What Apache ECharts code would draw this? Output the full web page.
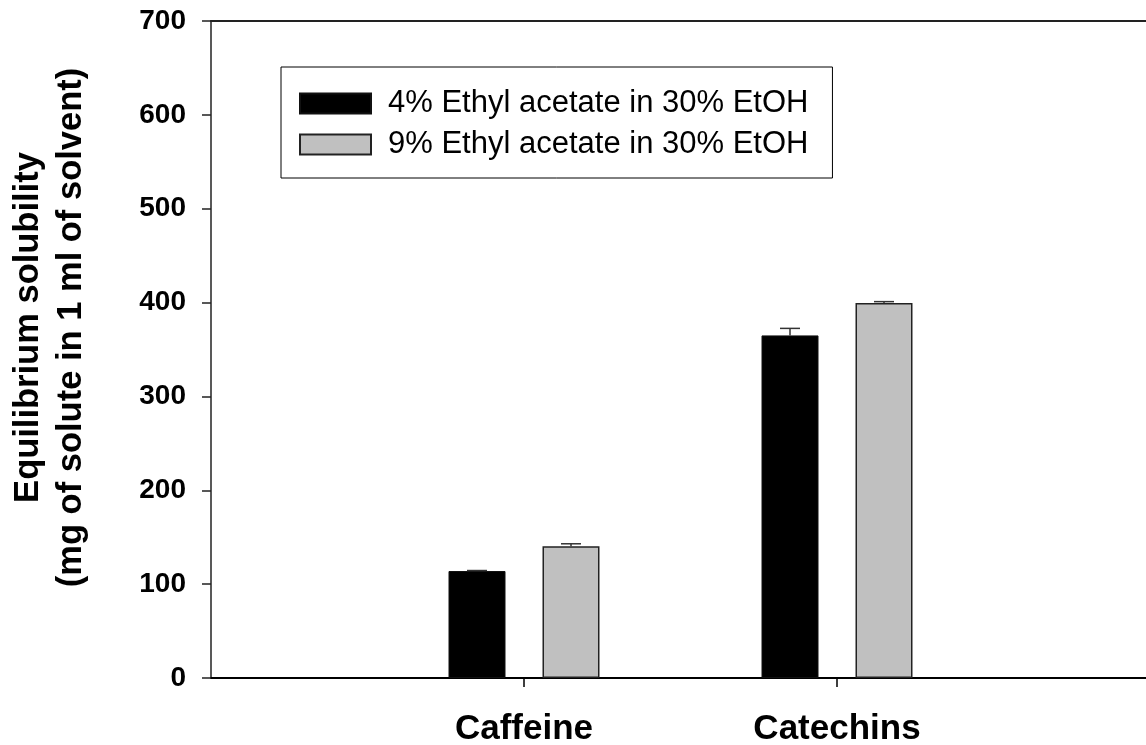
<!DOCTYPE html>
<html>
<head>
<meta charset="utf-8">
<script src="https://cdn.jsdelivr.net/npm/echarts@6/dist/echarts.min.js"></script>
<style>
html,body{margin:0;padding:0;background:#fff;}
#c{width:1146px;height:745px;}
</style>
</head>
<body>
<div id="c"></div>
<script>
const categories = ['Caffeine', 'Catechins'];
const seriesNames = ['4% Ethyl acetate in 30% EtOH', '9% Ethyl acetate in 30% EtOH'];
const ea4 = [114, 365];
const ea4Err = [0.5, 7.5];
const ea9 = [140.5, 399.5];
const ea9Err = [2.5, 1.5];
const yMin = 0, yMax = 700, yStep = 100;

const FONT = "'Liberation Sans', Arial, sans-serif";
const axisCats = [''].concat(categories).concat(['']);
const BAR_W = 57, GAP_PX = 37;
const pad = v => ['-'].concat(v).concat(['-']);

function errSeries(vals, errs, dir) {
  const data = vals.map((v, i) => [i + 1, v, errs[i]]);
  return {
    type: 'custom',
    z: 5,
    silent: true,
    data: data,
    renderItem: function (params, api) {
      const base = api.coord([api.value(0), api.value(1)]);
      const top = api.coord([api.value(0), api.value(1) + api.value(2)]);
      const x = base[0] + dir * (BAR_W + GAP_PX) / 2;
      const st = {stroke: '#333', lineWidth: 1.5};
      return {
        type: 'group',
        children: [
          {type: 'line', shape: {x1: x, y1: base[1], x2: x, y2: top[1]}, style: st},
          {type: 'line', shape: {x1: x - 10, y1: top[1], x2: x + 10, y2: top[1]}, style: st}
        ]
      };
    }
  };
}

const chart = echarts.init(document.getElementById('c'), null, {renderer: 'canvas'});
chart.setOption({
  animation: false,
  backgroundColor: '#fff',
  textStyle: {fontFamily: FONT},
  grid: {left: 211, width: 939, top: 21, bottom: 67, containLabel: false, outerBoundsMode: 'none'},
  legend: {
    orient: 'vertical',
    left: 281, top: 67,
    padding: [21, 24, 18, 18],
    itemGap: 10,
    itemWidth: 71, itemHeight: 20,
    icon: 'rect',
    borderColor: '#000', borderWidth: 1,
    textStyle: {fontSize: 31, color: '#000', fontFamily: FONT, padding: [0, 0, 0, 12]},
    data: seriesNames
  },
  xAxis: [{
    type: 'category',
    data: axisCats,
    boundaryGap: false,
    position: 'bottom',
    axisLine: {show: true, lineStyle: {color: '#000', width: 2}},
    axisTick: {show: true, length: 9, interval: (i) => i === 1 || i === 2, lineStyle: {color: '#000', width: 1.5}},
    axisLabel: {show: true, interval: 0, margin: 34, fontSize: 35, fontWeight: 'bold', color: '#000', fontFamily: FONT},
    splitLine: {show: false}
  }, {
    type: 'category',
    data: axisCats,
    boundaryGap: false,
    position: 'top',
    axisLine: {show: true, lineStyle: {color: '#222', width: 2}},
    axisTick: {show: false},
    axisLabel: {show: false},
    splitLine: {show: false}
  }],
  yAxis: {
    type: 'value',
    min: yMin, max: yMax, interval: yStep,
    name: 'Equilibrium solubility\n(mg of solute in 1 ml of solvent)',
    nameLocation: 'middle',
    nameRotate: 90,
    nameGap: 118,
    nameTextStyle: {fontSize: 34.5, fontWeight: 'bold', color: '#000', lineHeight: 43, fontFamily: FONT, padding: [0, 0, 0, 44]},
    axisLine: {show: true, lineStyle: {color: '#222', width: 1.5}},
    axisTick: {show: true, length: 9, lineStyle: {color: '#222', width: 1.5}},
    axisLabel: {margin: 25, fontSize: 28, fontWeight: 'bold', color: '#000', fontFamily: FONT},
    splitLine: {show: false}
  },
  series: [{
    name: seriesNames[0],
    type: 'bar',
    data: pad(ea4),
    barWidth: BAR_W,
    barGap: (GAP_PX / BAR_W * 100).toFixed(1) + '%',
    itemStyle: {color: '#000', borderColor: '#111', borderWidth: 1}
  }, {
    name: seriesNames[1],
    type: 'bar',
    data: pad(ea9),
    barWidth: BAR_W,
    itemStyle: {color: '#c0c0c0', borderColor: '#222', borderWidth: 1.5}
  },
  errSeries(ea4, ea4Err, -1),
  errSeries(ea9, ea9Err, 1)
  ]
});
</script>
</body>
</html>
